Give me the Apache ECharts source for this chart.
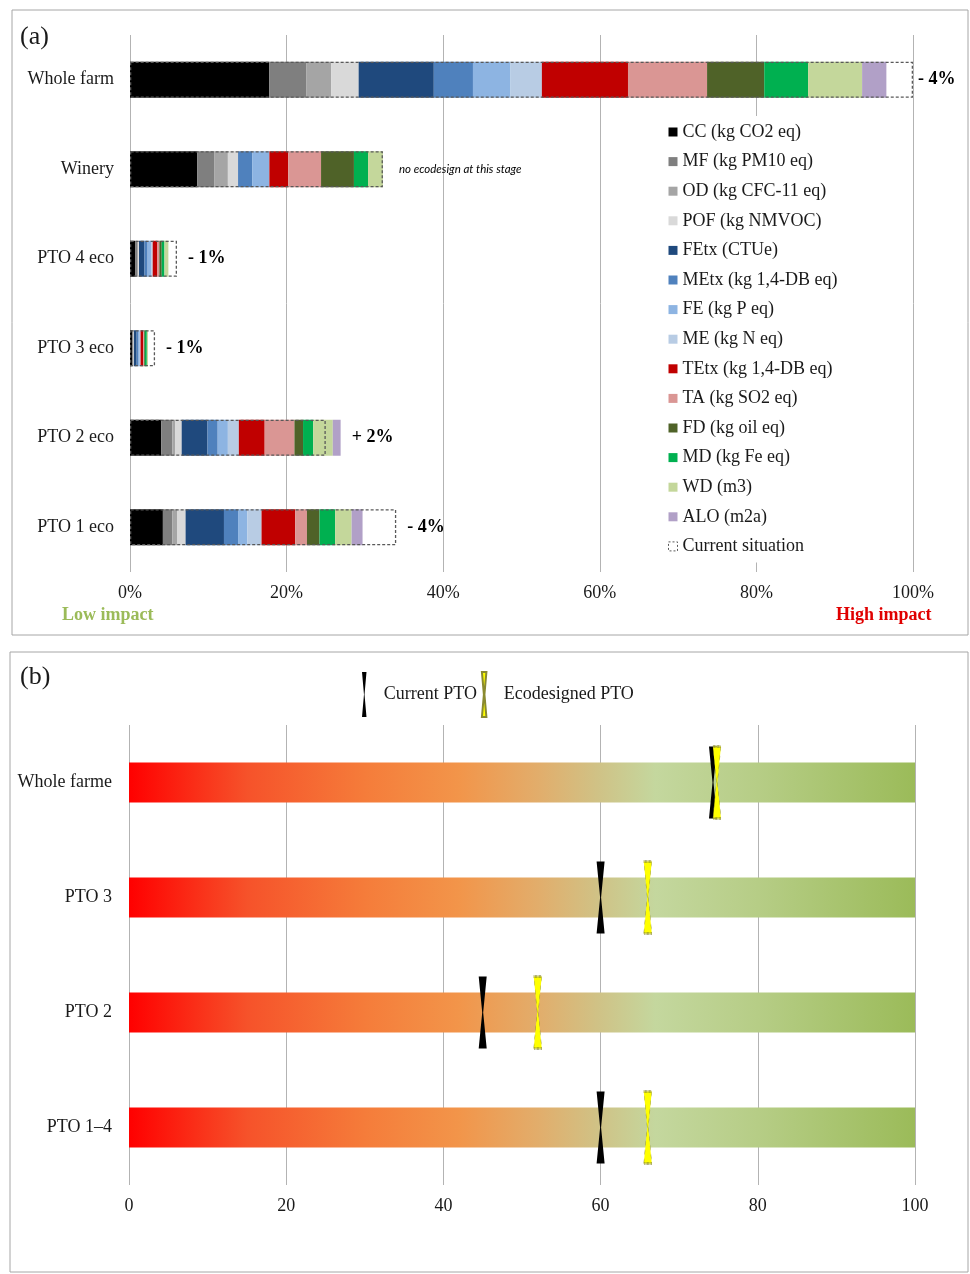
<!DOCTYPE html>
<html>
<head>
<meta charset="utf-8">
<script src="https://cdn.jsdelivr.net/npm/echarts@6/dist/echarts.min.js"></script>
<style>
  html, body { margin: 0; padding: 0; background: #fff; }
  #main { width: 970px; height: 1274px; }
</style>
</head>
<body>
<div id="main"></div>
<script>
// (a) impact categories, share of the whole farm (%)
const rowsA = ['Whole farm', 'Winery', 'PTO 4 eco', 'PTO 3 eco', 'PTO 2 eco', 'PTO 1 eco'];
const cc   = [17.8, 8.6, 0.65, 0.3, 4.0, 4.2];
const mf   = [4.7, 2.2, 0.25, 0.1, 1.4, 1.2];
const od   = [3.2, 1.7, 0.15, 0.05, 0.4, 0.6];
const pof  = [3.5, 1.3, 0.1, 0.05, 0.8, 1.1];
const fetx = [9.6, 0, 0.7, 0.35, 3.3, 4.9];
const metx = [5.0, 1.8, 0.4, 0.25, 1.3, 1.8];
const fe   = [4.8, 2.2, 0.45, 0.15, 1.3, 1.2];
const me   = [4.0, 0, 0.2, 0.1, 1.4, 1.8];
const tetx = [11.0, 2.4, 0.6, 0.35, 3.3, 4.3];
const ta   = [10.1, 4.2, 0.25, 0.1, 3.8, 1.5];
const fd   = [7.3, 4.2, 0.3, 0.1, 1.1, 1.6];
const md   = [5.6, 1.8, 0.35, 0.25, 1.3, 2.0];
const wd   = [6.9, 1.9, 0.5, 0.15, 2.5, 2.1];
const alo  = [3.1, 0, 0, 0, 1.0, 1.4];
const currentSituation = [100, 32.3, 6.0, 3.2, 25.0, 34.0];
const changeLabels = ['- 4%', 'no ecodesign at this stage', '- 1%', '- 1%', '+ 2%', '- 4%'];
const ticksA = [0, 20, 40, 60, 80, 100];

// (b) position on the impact scale
const rowsB = ['Whole farme', 'PTO 3', 'PTO 2', 'PTO 1\u20134'];
const scaleMax = [100, 100, 100, 100];
const currentPTO = [74.3, 60, 45, 60];
const ecoPTO = [74.8, 66, 52, 66];

const serif = 'Liberation Serif';
const hourglass = 'path://M0,0 L10,0 L5.6,50 L10,100 L0,100 L4.4,50 Z';

const impacts = [
  { name: 'CC (kg CO2 eq)', color: '#000000', values: cc },
  { name: 'MF (kg PM10 eq)', color: '#7f7f7f', values: mf },
  { name: 'OD (kg CFC-11 eq)', color: '#a5a5a5', values: od },
  { name: 'POF (kg NMVOC)', color: '#d9d9d9', values: pof },
  { name: 'FEtx (CTUe)', color: '#1f497d', values: fetx },
  { name: 'MEtx (kg 1,4-DB eq)', color: '#4f81bd', values: metx },
  { name: 'FE (kg P eq)', color: '#8db4e2', values: fe },
  { name: 'ME (kg N eq)', color: '#b8cce4', values: me },
  { name: 'TEtx (kg 1,4-DB eq)', color: '#c00000', values: tetx },
  { name: 'TA (kg SO2 eq)', color: '#da9694', values: ta },
  { name: 'FD (kg oil eq)', color: '#4f6228', values: fd },
  { name: 'MD (kg Fe eq)', color: '#00b050', values: md },
  { name: 'WD (m3)', color: '#c4d79b', values: wd },
  { name: 'ALO (m2a)', color: '#b1a0c7', values: alo }
];

const rowEnds = rowsA.map((_, i) =>
  Math.max(currentSituation[i], impacts.reduce((s, d) => s + d.values[i], 0)));

let chart = echarts.init(document.getElementById('main'));

let series = impacts.map(d => ({
  name: d.name,
  type: 'bar',
  stack: 'eco',
  xAxisIndex: 0,
  yAxisIndex: 0,
  barWidth: 36,
  barGap: '-100%',
  silent: true,
  itemStyle: { color: d.color },
  data: d.values
}));

series.push({
  name: 'Current situation',
  type: 'bar',
  xAxisIndex: 0,
  yAxisIndex: 0,
  barWidth: 36,
  barGap: '-100%',
  silent: true,
  itemStyle: {
    color: 'rgba(255,255,255,0)',
    borderColor: '#595959',
    borderWidth: 1.3,
    borderType: [3, 2]
  },
  data: currentSituation
});

series.push({
  name: 'ends',
  type: 'bar',
  xAxisIndex: 0,
  yAxisIndex: 0,
  barWidth: 36,
  barGap: '-100%',
  silent: true,
  itemStyle: { color: 'rgba(0,0,0,0)' },
  label: {
    show: true,
    position: 'right',
    distance: 11,
    color: '#000',
    fontFamily: serif,
    fontWeight: 'bold',
    fontSize: 18,
    formatter: p => changeLabels[p.dataIndex]
  },
  data: rowEnds.map((v, i) => i === 1
    ? { value: v, label: { fontStyle: 'italic', fontWeight: 'normal', fontFamily: 'Lato', fontSize: 11.5, distance: 16 } }
    : (i === 0 ? { value: v, label: { distance: 5 } } : v))
});

// (b)
series.push({
  name: 'scale',
  type: 'bar',
  xAxisIndex: 1,
  yAxisIndex: 1,
  barWidth: 40,
  silent: true,
  itemStyle: {
    color: new echarts.graphic.LinearGradient(0, 0, 1, 0, [
      { offset: 0, color: '#ff0000' },
      { offset: 0.15, color: '#f6522a' },
      { offset: 0.3, color: '#f57c3a' },
      { offset: 0.42, color: '#f2954a' },
      { offset: 0.52, color: '#e2ad6b' },
      { offset: 0.6, color: '#cfc387' },
      { offset: 0.67, color: '#c4d79e' },
      { offset: 0.8, color: '#b6cd86' },
      { offset: 1, color: '#9bbb59' }
    ])
  },
  data: scaleMax
});

series.push({
  name: 'Current PTO',
  type: 'scatter',
  xAxisIndex: 1,
  yAxisIndex: 1,
  symbol: hourglass,
  symbolSize: [8, 72],
  silent: true,
  itemStyle: { color: '#000', opacity: 1 },
  data: currentPTO.map((v, i) => [v, rowsB[i]])
});

series.push({
  name: 'Ecodesigned PTO',
  type: 'scatter',
  xAxisIndex: 1,
  yAxisIndex: 1,
  symbol: hourglass,
  symbolSize: [8, 72],
  silent: true,
  itemStyle: { color: '#ffff00', opacity: 1, borderColor: '#8a8a30', borderWidth: 1, borderType: [2, 2] },
  data: ecoPTO.map((v, i) => [v, rowsB[i]])
});

let option = {
  animation: false,
  backgroundColor: '#fff',
  textStyle: { fontFamily: serif },
  grid: [
    { left: 130, right: 57, top: 35, bottom: 702 },
    { left: 129, right: 55, top: 725, bottom: 89 }
  ],
  xAxis: [
    {
      gridIndex: 0, type: 'value', min: ticksA[0], max: ticksA[ticksA.length - 1], interval: 20,
      axisLine: { show: false }, axisTick: { show: false },
      splitLine: { show: true, lineStyle: { color: '#b3b3b3', width: 1 } },
      axisLabel: { formatter: '{value}%', color: '#1a1a1a', fontFamily: serif, fontSize: 18, margin: 12 }
    },
    {
      gridIndex: 1, type: 'value', min: 0, max: 100, interval: 20,
      axisLine: { show: false }, axisTick: { show: false },
      splitLine: { show: true, lineStyle: { color: '#b3b3b3', width: 1 } },
      axisLabel: { color: '#1a1a1a', fontFamily: serif, fontSize: 18, margin: 12 }
    }
  ],
  yAxis: [
    {
      gridIndex: 0, type: 'category', data: rowsA, inverse: true,
      axisLine: { show: false }, axisTick: { show: false },
      axisLabel: { color: '#1a1a1a', fontFamily: serif, fontSize: 18, margin: 16 }
    },
    {
      gridIndex: 1, type: 'category', data: rowsB, inverse: true,
      axisLine: { show: false }, axisTick: { show: false },
      axisLabel: { color: '#1a1a1a', fontFamily: serif, fontSize: 18, margin: 17 }
    }
  ],
  legend: [
    {
      orient: 'vertical',
      left: 660,
      top: 116,
      padding: [6, 8],
      backgroundColor: '#fff',
      selectedMode: false,
      icon: 'rect',
      itemWidth: 9,
      itemHeight: 9,
      itemGap: 9.6,
      textStyle: { fontFamily: serif, fontSize: 18, lineHeight: 20, color: '#1a1a1a' },
      data: impacts.map(d => d.name).concat([{
        name: 'Current situation',
        itemStyle: { color: '#fff', borderColor: '#595959', borderWidth: 1, borderType: [2, 2] }
      }])
    },
    {
      orient: 'horizontal',
      left: 362,
      top: 671,
      padding: 0,
      selectedMode: false,
      itemWidth: 9,
      itemHeight: 45,
      itemGap: 4,
      textStyle: { fontFamily: serif, fontSize: 18, color: '#1a1a1a', padding: [0, 0, 0, 10] },
      data: [
        { name: 'Current PTO', icon: hourglass },
        { name: 'Ecodesigned PTO', icon: hourglass }
      ]
    }
  ],
  graphic: [
    { type: 'rect', shape: { x: 12, y: 10, width: 956, height: 625 }, style: { fill: 'none', stroke: '#a6a6a6', lineWidth: 1 }, silent: true },
    { type: 'rect', shape: { x: 10, y: 652, width: 958, height: 620 }, style: { fill: 'none', stroke: '#a6a6a6', lineWidth: 1 }, silent: true },
    { type: 'text', left: 20, top: 24, style: { text: '(a)', font: '26px "Liberation Serif"', fill: '#1a1a1a' } },
    { type: 'text', left: 20, top: 664, style: { text: '(b)', font: '26px "Liberation Serif"', fill: '#1a1a1a' } },
    { type: 'text', left: 62, top: 606, style: { text: 'Low impact', font: 'bold 18px "Liberation Serif"', fill: '#9bbb59' } },
    { type: 'text', left: 836, top: 606, style: { text: 'High impact', font: 'bold 18px "Liberation Serif"', fill: '#e00000' } }
  ],
  series: series
};

chart.setOption(option);
</script>
</body>
</html>
